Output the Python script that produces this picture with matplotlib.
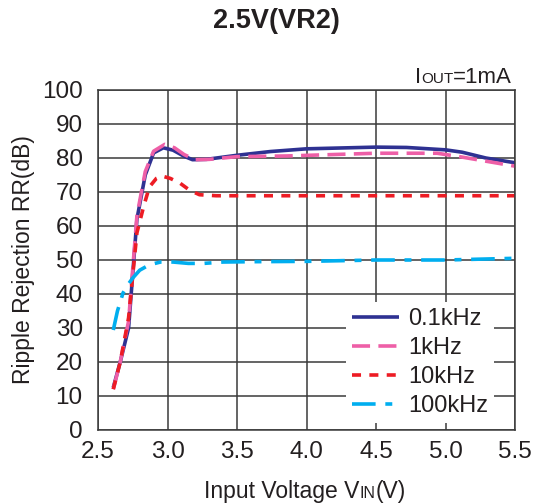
import matplotlib
matplotlib.use("Agg")
import matplotlib.pyplot as plt

plt.rcParams['font.family'] = ['Liberation Sans', 'DejaVu Sans']
plt.rcParams['lines.scale_dashes'] = False

title = "2.5V(VR2)"
x_ticks = [2.5, 3.0, 3.5, 4.0, 4.5, 5.0, 5.5]
x_tick_labels = ["2.5", "3.0", "3.5", "4.0", "4.5", "5.0", "5.5"]
y_ticks = [0, 10, 20, 30, 40, 50, 60, 70, 80, 90, 100]

v_01k = [2.61, 2.66, 2.72, 2.78, 2.84, 2.90, 2.97, 3.04, 3.12, 3.18, 3.28, 3.50, 3.74, 4.00, 4.50, 4.72, 5.00, 5.12, 5.29, 5.50]
rr_01k = [12.5, 20.0, 30.0, 62.0, 75.0, 81.5, 83.0, 82.3, 80.5, 79.5, 79.6, 80.8, 81.9, 82.7, 83.2, 83.1, 82.4, 81.7, 80.0, 78.6]

v_1k = [2.61, 2.66, 2.72, 2.78, 2.84, 2.90, 2.98, 3.05, 3.12, 3.20, 3.30, 3.50, 3.86, 4.50, 4.94, 5.10, 5.30, 5.50]
rr_1k = [12.0, 20.0, 32.0, 63.0, 76.0, 82.0, 84.0, 83.0, 81.0, 79.5, 79.6, 80.4, 80.6, 81.4, 81.4, 80.4, 79.0, 77.6]

v_10k = [2.61, 2.66, 2.72, 2.78, 2.83, 2.87, 2.92, 2.96, 3.02, 3.09, 3.16, 3.23, 3.35, 4.00, 4.50, 5.00, 5.50]
rr_10k = [12.0, 20.0, 33.0, 58.0, 66.0, 71.5, 74.0, 74.7, 74.0, 72.6, 70.5, 69.2, 68.9, 68.9, 68.9, 68.9, 68.9]

v_100k = [2.61, 2.64, 2.68, 2.72, 2.75, 2.80, 2.87, 2.95, 3.04, 3.15, 3.26, 3.40, 3.60, 4.00, 4.50, 5.00, 5.50]
rr_100k = [29.4, 35.0, 40.3, 43.0, 44.7, 47.0, 48.6, 49.4, 49.4, 49.0, 49.0, 49.4, 49.5, 49.6, 50.0, 50.0, 50.5]

labels = ["0.1kHz", "1kHz", "10kHz", "100kHz"]
colors = ["#2E3192", "#EE5FA7", "#ED1C24", "#00AEEF"]

fig = plt.figure(figsize=(5.43, 5.04), dpi=100)
ax = fig.add_axes([98/543, 1-430/504, 417/543, 340/504])

ax.plot(v_01k, rr_01k, color=colors[0], lw=2.6, linestyle='-', label=labels[0], solid_capstyle='butt')
ax.plot(v_1k, rr_1k, color=colors[1], lw=2.6, dashes=(13, 6), label=labels[1])
ax.plot(v_10k, rr_10k, color=colors[2], lw=2.6, dashes=(6.5, 6), label=labels[2])
ax.plot(v_100k, rr_100k, color=colors[3], lw=2.6, dashes=(17, 7, 5, 7), label=labels[3])

ax.set_xlim(2.5, 5.5)
ax.set_ylim(0, 100)
ax.set_xticks(x_ticks)
ax.set_xticklabels(x_tick_labels)
ax.set_yticks(y_ticks)
ax.tick_params(length=0, labelsize=17.5, colors='#231F20')
ax.tick_params(axis='y', pad=11)
ax.tick_params(axis='x', pad=8)
ax.grid(True, color='#3a3a3a', lw=1.1)
ax.set_axisbelow(True)
for s in ax.spines.values():
    s.set_color('#3a3a3a')
    s.set_linewidth(1.1)

ax.set_ylabel("Ripple Rejection RR(dB)", fontsize=16.5, color='#231F20', labelpad=5)

leg = ax.legend(loc='lower right', bbox_to_anchor=(0.95, 0.02), fontsize=17,
                frameon=True, facecolor='white', edgecolor='none', framealpha=1,
                fancybox=False, handlelength=2.0, handletextpad=0.4,
                labelspacing=0.3, borderpad=0.25, borderaxespad=0)
for t in leg.get_texts():
    t.set_color('#231F20')

fig.text(276/543, 1-21/504, title, fontsize=19.5, fontweight='bold', ha='center', va='center', color='#231F20')

fig.canvas.draw()
r = fig.canvas.get_renderer()

def chain(pieces, x_px, y_px, align):
    arts = []
    for txt, sz in pieces:
        arts.append(fig.text(0, 0, txt, fontsize=sz, ha='left', va='baseline', color='#231F20'))
    widths = [a.get_window_extent(r).width for a in arts]
    total = sum(widths)
    if align == 'right':
        x0 = x_px - total
    else:
        x0 = x_px - total / 2
    cur = x0
    for a, w in zip(arts, widths):
        a.set_position((cur / 543, 1 - y_px / 504))
        cur += w
    return arts

chain([("I", 16), ("OUT", 11), ("=1mA", 16)], 512, 83, 'right')
chain([("Input Voltage V", 16.5), ("IN", 11.5), ("(V)", 16.5)], 305, 498, 'center')

fig.savefig("out.png", dpi=100)
